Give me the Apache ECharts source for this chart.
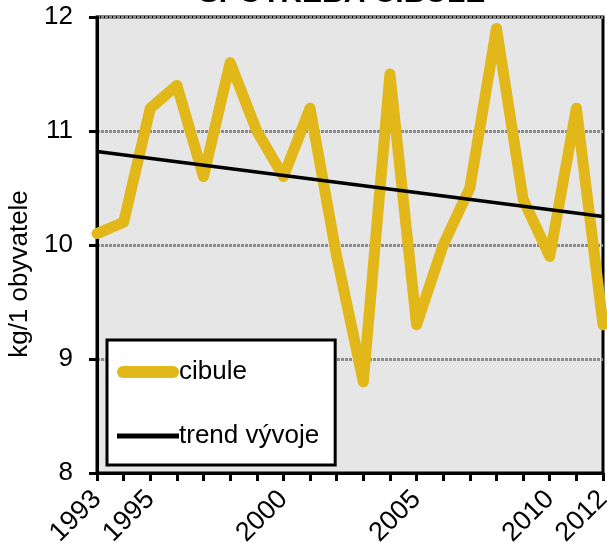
<!DOCTYPE html>
<html>
<head>
<meta charset="utf-8">
<script src="https://cdn.jsdelivr.net/npm/echarts@6/dist/echarts.min.js"></script>
<style>
html,body{margin:0;padding:0;background:#fff;}
#c{width:607px;height:543px;}
</style>
</head>
<body>
<div id="c"></div>
<script>
const titleText = 'SPOTŘEBA CIBULE';
const yAxisName = 'kg/1 obyvatele';
const years = [1993,1994,1995,1996,1997,1998,1999,2000,2001,2002,2003,2004,2005,2006,2007,2008,2009,2010,2011,2012];
const cibule = [10.1,10.2,11.2,11.4,10.6,11.6,11.0,10.6,11.2,9.9,8.8,11.5,9.3,10.0,10.5,11.9,10.4,9.9,11.2,9.3];
const trendYears = [1993, 2012];
const trendValues = [10.82, 10.25];
const shownYearLabels = [1993,1995,2000,2005,2010,2012];
const yTicks = [8,9,10,11,12];

const font = 'Liberation Sans, Arial, sans-serif';
const chart = echarts.init(document.getElementById('c'), null, {renderer:'canvas'});
chart.setOption({
  animation:false,
  backgroundColor:'#ffffff',
  title:{
    text:titleText, left:337, textAlign:'center', top:-26.5,
    textStyle:{fontFamily:font, fontSize:30, fontWeight:'bold', color:'#000'}
  },
  grid:{left:97, right:4, top:17, bottom:70, outerBoundsMode:'none', containLabel:false,
        show:true, backgroundColor:'#e6e6e6', borderColor:'#000', borderWidth:3},
  legend:{
    left:107, top:340, orient:'vertical',
    backgroundColor:'#fff', borderColor:'#000', borderWidth:3,
    padding:[19,16,16,10], itemGap:38, itemWidth:62, itemHeight:12,
    textStyle:{fontFamily:font, fontSize:26, color:'#000', padding:[0,0,0,-5]},
    data:[
      {name:'cibule', icon:'path://M6,0 L56,0 A6,6 0 0 1 56,12 L6,12 A6,6 0 0 1 6,0 Z', itemStyle:{color:'#e1b71a'}},
      {name:'trend vývoje', icon:'path://M4,0 L56,0 L56,4 L4,4 Z', itemStyle:{color:'#000'}}
    ]
  },
  xAxis:{
    type:'value', min:years[0], max:years[years.length-1], interval:1,
    axisLine:{show:true, lineStyle:{color:'#000', width:3}},
    axisTick:{show:true, length:8, lineStyle:{color:'#000', width:3}},
    splitLine:{show:false},
    axisLabel:{
      rotate:45, margin:22, fontFamily:font, fontSize:27, color:'#000',
      hideOverlap:false,
      formatter:function(v){ return shownYearLabels.indexOf(v) >= 0 ? String(v) : ''; }
    }
  },
  yAxis:{
    type:'value', min:yTicks[0], max:yTicks[yTicks.length-1], interval:1,
    name:yAxisName, nameLocation:'middle', nameGap:53,
    nameTextStyle:{fontFamily:font, fontSize:26, color:'#000', padding:[0,58,0,0]},
    axisLine:{show:true, lineStyle:{color:'#000', width:3}},
    axisTick:{show:true, length:8, lineStyle:{color:'#000', width:3}},
    splitLine:{show:true, lineStyle:{color:'#8c8c8c', width:3, type:[3,1]}},
    axisLabel:{margin:24, fontFamily:font, fontSize:26, color:'#000'}
  },
  series:[
    {
      name:'cibule', type:'line', showSymbol:false, symbol:'none',
      data:years.map((y,i)=>[y,cibule[i]]),
      lineStyle:{color:'#e1b71a', width:11, cap:'round', join:'round'},
      itemStyle:{color:'#e1b71a'}, z:2
    },
    {
      name:'trend vývoje', type:'line', showSymbol:false, symbol:'none',
      data:trendYears.map((y,i)=>[y,trendValues[i]]),
      lineStyle:{color:'#000', width:3.5},
      itemStyle:{color:'#000'}, z:3
    }
  ]
});
</script>
</body>
</html>
